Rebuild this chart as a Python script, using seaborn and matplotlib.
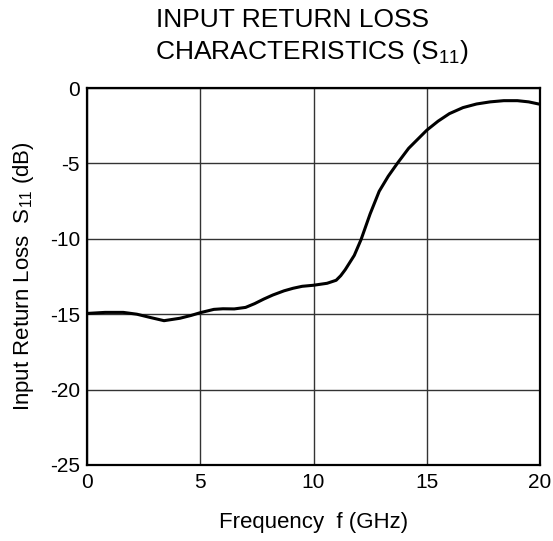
import matplotlib
matplotlib.use("Agg")
import matplotlib.pyplot as plt
import seaborn as sns
import pandas as pd

sns.set_theme(style="white")
plt.rcParams.update({'font.family': ['Liberation Sans', 'DejaVu Sans'],
                     'mathtext.default': 'regular',
                     'axes.unicode_minus': False,
                     'font.size': 15,
                     'xtick.labelsize': 15,
                     'ytick.labelsize': 15,
                     'axes.linewidth': 1.6})

# values
freq = [0.0, 0.8, 1.6, 2.2, 2.8, 3.4, 4.1, 4.6, 5.0, 5.6, 6.0, 6.5, 7.0, 7.4,
        7.8, 8.2, 8.7, 9.1, 9.5, 10.0, 10.6, 11.0, 11.2, 11.4, 11.8, 12.1,
        12.5, 12.9, 13.3, 13.7, 14.2, 15.0, 15.5, 16.0, 16.6, 17.2, 17.8,
        18.4, 19.0, 19.5, 20.0]
s11 = [-14.95, -14.88, -14.88, -15.0, -15.22, -15.43, -15.27, -15.08, -14.9,
       -14.68, -14.64, -14.65, -14.55, -14.3, -14.0, -13.73, -13.45, -13.28,
       -13.15, -13.08, -12.95, -12.75, -12.45, -12.05, -11.1, -10.05, -8.35,
       -6.85, -5.85, -5.0, -4.0, -2.8, -2.2, -1.7, -1.3, -1.06, -0.92, -0.84,
       -0.84, -0.92, -1.08]
xticks = [0, 5, 10, 15, 20]
yticks = [0, -5, -10, -15, -20, -25]

df = pd.DataFrame({'f': freq, 's11': s11})

fig = plt.figure(figsize=(5.53, 5.41), dpi=100)
ax = fig.add_axes([87/553, 76/541, 453/553, 377/541])

sns.lineplot(ax=ax, data=df, x='f', y='s11', color='black', lw=2.2,
             sort=False, zorder=3)

ax.set_xlim(0, 20)
ax.set_ylim(-25, 0)
ax.set_xticks(xticks)
ax.set_yticks(yticks)
ax.grid(True, color='#333333', lw=1.0)
for s in ax.spines.values():
    s.set_color('black')
ax.tick_params(axis='both', length=0, colors='black')
ax.tick_params(axis='x', pad=6)
ax.tick_params(axis='y', pad=5)

ax.set_xlabel('Frequency  f (GHz)', fontsize=16, color='black')
ax.set_ylabel('Input Return Loss  S$_{11}$ (dB)', fontsize=16, color='black')
ax.xaxis.set_label_coords(0.5, -0.125)
ax.yaxis.set_label_coords(-0.112, 0.5)

fig.text(156/553, 1 - 27/541, 'INPUT RETURN LOSS',
         ha='left', va='baseline', fontsize=19, color='black')
fig.text(155/553, 1 - 59/541, 'CHARACTERISTICS (S$_{11}$)',
         ha='left', va='baseline', fontsize=19, color='black')

fig.savefig('out.png', dpi=100)
